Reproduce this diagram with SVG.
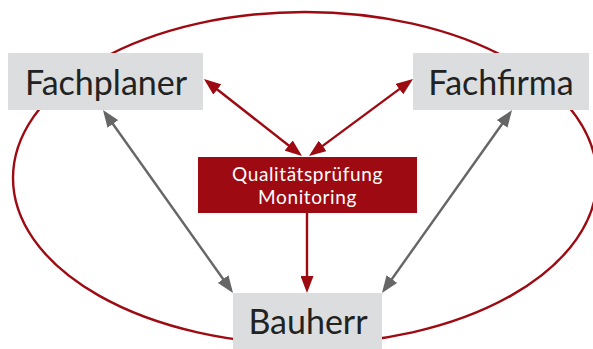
<svg xmlns="http://www.w3.org/2000/svg" width="593" height="349" viewBox="0 0 593 349">
  <defs>
    <style>
      .box { fill: #dcdddf; }
      .qm { fill: #9e0a12; }
      .label { font-family: Lato, "Noto Sans", sans-serif; fill: #222222; text-anchor: middle; font-size: 34px; }
      .qm-label { font-family: Lato, "Noto Sans", sans-serif; fill: #ffffff; text-anchor: middle; font-size: 19px; letter-spacing: 0.6px; }
      .red { stroke: #9e0a12; stroke-width: 2.4; fill: none; }
      .grey { stroke: #666666; stroke-width: 2.4; fill: none; }
    </style>
    <marker id="headRed" viewBox="0 0 17 13" refX="13" refY="6.5" markerWidth="17" markerHeight="13" markerUnits="userSpaceOnUse" orient="auto-start-reverse">
      <path d="M0,0 L17,6.5 L0,13 Z" fill="#9e0a12"/>
    </marker>
    <marker id="headGrey" viewBox="0 0 17 13" refX="13" refY="6.5" markerWidth="17" markerHeight="13" markerUnits="userSpaceOnUse" orient="auto-start-reverse">
      <path d="M0,0 L17,6.5 L0,13 Z" fill="#666666"/>
    </marker>
  </defs>

  <!-- surrounding cycle -->
  <ellipse class="red" cx="305" cy="178" rx="292" ry="166"/>

  <g id="connectors">
    <line class="red" x1="207.1" y1="81.5" x2="298.9" y2="153.5" marker-start="url(#headRed)" marker-end="url(#headRed)"/>
    <line class="red" x1="409.8" y1="81.4" x2="312.2" y2="153.6" marker-start="url(#headRed)" marker-end="url(#headRed)"/>
    <line class="red" x1="307" y1="213" x2="307" y2="289" marker-end="url(#headRed)"/>
    <line class="grey" x1="105.3" y1="113.3" x2="230.7" y2="289.7" marker-start="url(#headGrey)" marker-end="url(#headGrey)"/>
    <line class="grey" x1="509.7" y1="113.3" x2="384.3" y2="289.7" marker-start="url(#headGrey)" marker-end="url(#headGrey)"/>
  </g>

  <g id="fachplaner">
    <rect class="box" x="8" y="53" width="195" height="57"/>
    <text class="label" x="106" y="95">Fachplaner</text>
  </g>

  <g id="fachfirma">
    <rect class="box" x="413" y="53" width="176" height="57"/>
    <text class="label" x="501" y="95">Fachfirma</text>
  </g>

  <g id="qualitaetspruefung">
    <rect class="qm" x="198" y="157" width="219" height="56"/>
    <text class="qm-label" x="307.5" y="181">Qualitätsprüfung</text>
    <text class="qm-label" x="307.5" y="204">Monitoring</text>
  </g>

  <g id="bauherr">
    <rect class="box" x="233" y="293" width="149" height="56"/>
    <text class="label" x="308" y="334">Bauherr</text>
  </g>
</svg>
